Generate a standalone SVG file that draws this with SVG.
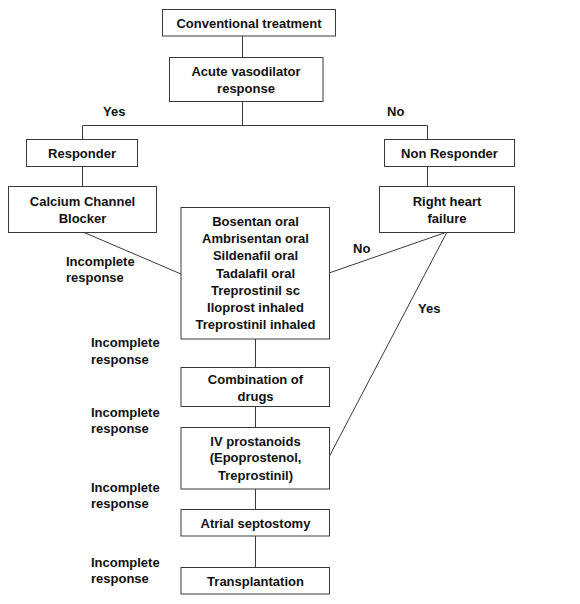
<svg xmlns="http://www.w3.org/2000/svg" width="580" height="604" viewBox="0 0 580 604">
<style>
.box{fill:#fff;stroke:#3a3a3a;stroke-width:1}
.t{font-family:"Liberation Sans",Arial,sans-serif;font-weight:bold;font-size:13px;fill:#111;text-anchor:middle}
.l{font-family:"Liberation Sans",Arial,sans-serif;font-weight:bold;font-size:13px;fill:#111;text-anchor:start}
.c{stroke:#3a3a3a;stroke-width:1;fill:none}
</style>
<rect width="580" height="604" fill="#fff"/>
<g id="connectors">
<line class="c" x1="242.5" y1="36" x2="242.5" y2="57"/>
<line class="c" x1="242.5" y1="102" x2="242.5" y2="125.5"/>
<line class="c" x1="82.5" y1="125.5" x2="427.5" y2="125.5"/>
<line class="c" x1="82.5" y1="125.5" x2="82.5" y2="139"/>
<line class="c" x1="427.5" y1="125.5" x2="427.5" y2="139"/>
<line class="c" x1="82.5" y1="166" x2="82.5" y2="187"/>
<line class="c" x1="427.5" y1="166" x2="427.5" y2="187"/>
<line class="c" x1="83" y1="232" x2="181" y2="274"/>
<line class="c" x1="329" y1="273" x2="447" y2="232"/>
<line class="c" x1="447" y1="232" x2="329" y2="457"/>
<line class="c" x1="255.5" y1="339" x2="255.5" y2="367"/>
<line class="c" x1="255.5" y1="407" x2="255.5" y2="427"/>
<line class="c" x1="255.5" y1="489" x2="255.5" y2="509"/>
<line class="c" x1="255.5" y1="536" x2="255.5" y2="567"/>
<text class="l" x="103" y="116">Yes</text>
<text class="l" x="387" y="116">No</text>
<text class="l" x="66" y="266">Incomplete</text>
<text class="l" x="66" y="282">response</text>
<text class="l" x="353" y="253">No</text>
<text class="l" x="418" y="313">Yes</text>
<text class="l" x="91" y="347">Incomplete</text>
<text class="l" x="91" y="364">response</text>
<text class="l" x="91" y="417">Incomplete</text>
<text class="l" x="91" y="433">response</text>
<text class="l" x="91" y="492">Incomplete</text>
<text class="l" x="91" y="508">response</text>
<text class="l" x="91" y="567">Incomplete</text>
<text class="l" x="91" y="583">response</text>
</g>
<g id="conventional">
<rect class="box" x="162.5" y="9.5" width="173" height="26.5"/>
<text class="t" x="249" y="28">Conventional treatment</text>
</g>
<g id="acute">
<rect class="box" x="169.5" y="57.5" width="153.5" height="44"/>
<text class="t" x="246" y="76">Acute vasodilator</text>
<text class="t" x="246" y="93">response</text>
</g>
<g id="responder">
<rect class="box" x="26.5" y="139.5" width="111" height="27"/>
<text class="t" x="82" y="158">Responder</text>
</g>
<g id="nonresponder">
<rect class="box" x="384.5" y="139.5" width="130" height="27"/>
<text class="t" x="449.5" y="158">Non Responder</text>
</g>
<g id="ccb">
<rect class="box" x="8.5" y="186.5" width="148" height="46"/>
<text class="t" x="82.5" y="206">Calcium Channel</text>
<text class="t" x="82.5" y="223">Blocker</text>
</g>
<g id="rhf">
<rect class="box" x="379.5" y="186.5" width="135" height="46"/>
<text class="t" x="447" y="206">Right heart</text>
<text class="t" x="447" y="223">failure</text>
</g>
<g id="drugs">
<rect class="box" x="181" y="207.5" width="148.5" height="131.5"/>
<text class="t" x="255.5" y="226">Bosentan oral</text>
<text class="t" x="255.5" y="243">Ambrisentan oral</text>
<text class="t" x="255.5" y="260">Sildenafil oral</text>
<text class="t" x="255.5" y="277.5">Tadalafil oral</text>
<text class="t" x="255.5" y="294.5">Treprostinil sc</text>
<text class="t" x="255.5" y="312">Iloprost inhaled</text>
<text class="t" x="255.5" y="329">Treprostinil inhaled</text>
</g>
<g id="combination">
<rect class="box" x="181" y="367.5" width="148.5" height="39"/>
<text class="t" x="255.5" y="384">Combination of</text>
<text class="t" x="255.5" y="400.5">drugs</text>
</g>
<g id="iv">
<rect class="box" x="181" y="427.5" width="148.5" height="61.5"/>
<text class="t" x="255.5" y="445.5">IV prostanoids</text>
<text class="t" x="255.5" y="462">(Epoprostenol,</text>
<text class="t" x="255.5" y="480">Treprostinil)</text>
</g>
<g id="atrial">
<rect class="box" x="181" y="509.5" width="148.5" height="26.5"/>
<text class="t" x="255.5" y="527.5">Atrial septostomy</text>
</g>
<g id="transplant">
<rect class="box" x="181" y="567.5" width="148.5" height="26.5"/>
<text class="t" x="255.5" y="586">Transplantation</text>
</g>
</svg>
